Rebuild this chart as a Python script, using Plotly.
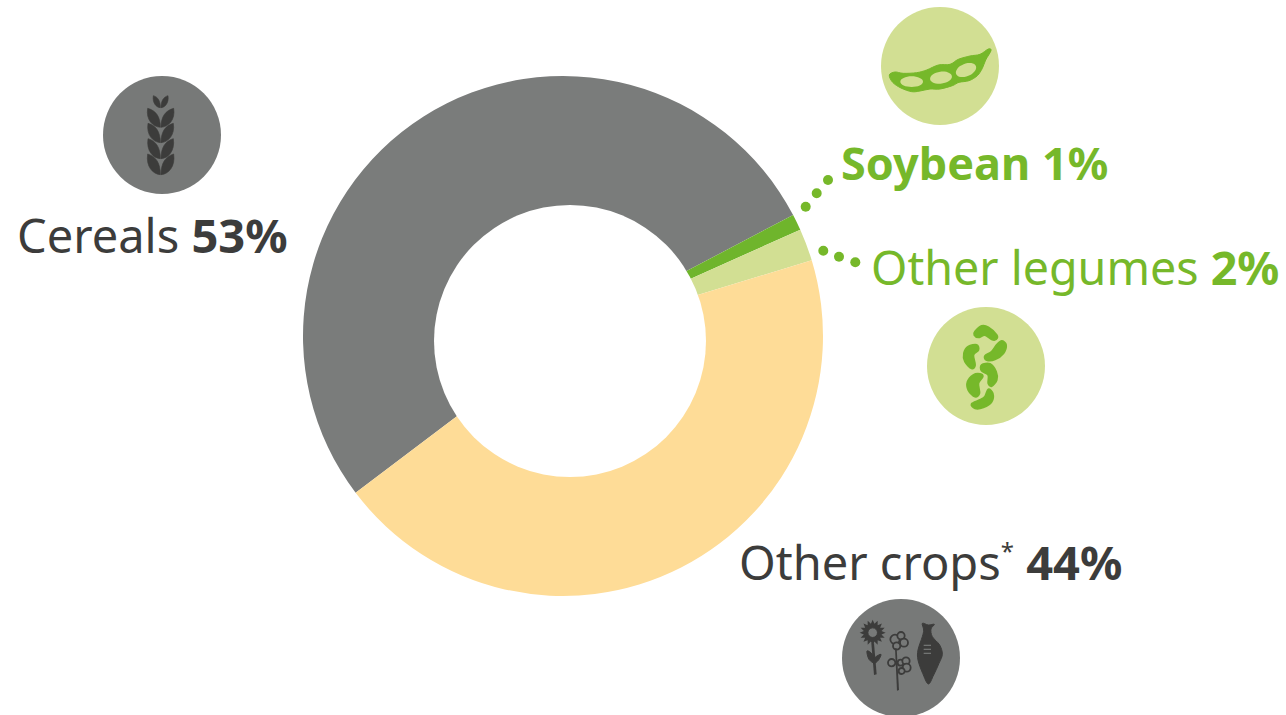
import math
import plotly.graph_objects as go

categories = ["Cereals", "Soybean", "Other legumes", "Other crops"]
values = [52.6, 1.0, 2.0, 44.4]
slice_colors = ["#7A7C7B", "#6FB52C", "#D2DF93", "#FEDC97"]
W, H = 1286, 715
DARK = "#3C3C3B"
GREEN = "#76B82A"
ICON_GREY = "#777978"
LIGHT = "#D2DF93"

shapes = []

def px(x, y):
    return f"{x / W:.5f},{1 - y / H:.5f}"

def smooth(pts):
    n = len(pts)
    d = "M" + px(*pts[0])
    for i in range(n):
        p0, p1, p2, p3 = pts[i - 1], pts[i], pts[(i + 1) % n], pts[(i + 2) % n]
        c1 = (p1[0] + (p2[0] - p0[0]) / 6, p1[1] + (p2[1] - p0[1]) / 6)
        c2 = (p2[0] - (p3[0] - p1[0]) / 6, p2[1] - (p3[1] - p1[1]) / 6)
        d += "C" + px(*c1) + " " + px(*c2) + " " + px(*p2)
    return d + "Z"

def poly(pts):
    return "M" + "L".join(px(*p) for p in pts) + "Z"

def add(path, fill=None, line=None, w=0):
    shapes.append(dict(type="path", xref="paper", yref="paper", path=path,
                       fillcolor=fill if fill else "rgba(0,0,0,0)",
                       line=dict(color=line if line else "rgba(0,0,0,0)", width=w)))

def circ(cx, cy, r, fill=None, line=None, w=0):
    shapes.append(dict(type="circle", xref="paper", yref="paper",
                       x0=(cx - r) / W, x1=(cx + r) / W,
                       y0=1 - (cy + r) / H, y1=1 - (cy - r) / H,
                       fillcolor=fill if fill else "rgba(0,0,0,0)",
                       line=dict(color=line if line else "rgba(0,0,0,0)", width=w)))

def zoomed(origin, pts):
    return [(origin[0] + x / 3, origin[1] + y / 3) for x, y in pts]

def ellipse(origin, cx, cy, rx, ry, deg):
    a = math.radians(deg)
    pts = []
    for k in range(16):
        t = 2 * math.pi * k / 16
        x, y = rx * math.cos(t), ry * math.sin(t)
        pts.append((cx + x * math.cos(a) - y * math.sin(a), cy + x * math.sin(a) + y * math.cos(a)))
    return zoomed(origin, pts)

# --- off-centre doughnut hole
circ(570, 341, 136, "white")

# --- icon discs
circ(940, 66, 59, LIGHT)
circ(986, 366, 59, LIGHT)
circ(162, 135, 59, ICON_GREY)
circ(901, 658, 59, ICON_GREY)

# --- soybean pod
o = (870, 0)
add(smooth(zoomed(o, [(58, 225), (75, 216), (100, 220), (140, 218), (170, 210), (205, 195), (240, 193),
                      (265, 178), (300, 168), (330, 163), (355, 147), (363, 152), (347, 180), (337, 205),
                      (322, 227), (297, 242), (267, 247), (247, 257), (210, 267), (180, 267), (150, 273),
                      (125, 275), (93, 264), (68, 247)])), GREEN, GREEN, 1)
add(smooth(ellipse(o, 125, 245, 34, 16, 0)), LIGHT)
add(smooth(ellipse(o, 213, 233, 33, 18, -8)), LIGHT)
add(smooth(ellipse(o, 288, 210, 32, 19, -22)), LIGHT)

# --- beans
o = (920, 300)
beans = [
    [(165, 95), (185, 78), (205, 82), (230, 105), (228, 118), (215, 118), (195, 105), (175, 112), (163, 105)],
    [(258, 135), (250, 160), (225, 178), (200, 180), (195, 168), (215, 155), (230, 135), (245, 123)],
    [(170, 135), (175, 150), (160, 165), (165, 195), (155, 205), (135, 185), (132, 160), (145, 140)],
    [(185, 195), (210, 192), (228, 215), (230, 240), (215, 258), (205, 250), (205, 225), (185, 212)],
    [(180, 222), (188, 230), (175, 250), (178, 280), (165, 290), (145, 270), (143, 245), (160, 225)],
    [(205, 268), (218, 280), (215, 305), (190, 322), (165, 325), (155, 312), (180, 300), (195, 290)],
]
for b in beans:
    add(smooth(zoomed(o, b)), GREEN, GREEN, 2)

# --- wheat: pointed leaves with sharp tip and base
o = (95, 70)
def leaf_pair(tip_y, bot_y, half):
    cx = 197
    h = bot_y - tip_y
    for s in (-1, 1):
        tip = (cx + s * half, tip_y)
        base = (cx + s * 1, bot_y)
        inner1 = (cx + s * half * 0.35, tip_y + h * 0.12)
        inner2 = (cx + s * 1, tip_y + h * 0.45)
        outer1 = (cx + s * half * 0.6, bot_y - h * 0.02)
        outer2 = (cx + s * half * 1.15, tip_y + h * 0.6)
        p = zoomed(o, [tip, inner1, inner2, base, outer1, outer2])
        add("M" + px(*p[0]) + "C" + px(*p[1]) + " " + px(*p[2]) + " " + px(*p[3])
            + "C" + px(*p[4]) + " " + px(*p[5]) + " " + px(*p[0]) + "Z", DARK, DARK, 0.6)
leaf_pair(77, 113, 22)
leaf_pair(115, 172, 39)
leaf_pair(160, 218, 38)
leaf_pair(206, 266, 38)
leaf_pair(252, 314, 39)

# --- other crops
o = (835, 595)
G = ICON_GREY
star = []
for k in range(32):
    r = 39 if k % 2 == 0 else 27
    t = math.pi * k / 16
    star.append((113 + r * math.cos(t), 113 + r * math.sin(t)))
add(poly(zoomed(o, star)), DARK)
cx, cy = zoomed(o, [(113, 113)])[0]
circ(cx, cy, 4.8, G, DARK, 1)
add(poly(zoomed(o, [(109, 145), (117, 145), (125, 238), (117, 240)])), DARK)
add(smooth(zoomed(o, [(96, 168), (112, 178), (119, 204), (102, 193)])), DARK, DARK, 1)
add(smooth(zoomed(o, [(138, 178), (130, 196), (117, 205), (120, 188)])), DARK, DARK, 1)
for x, y, r in [(180, 133, 14), (198, 122, 11), (207, 143, 12), (185, 153, 11),
                (170, 203, 11), (197, 203, 9), (213, 198, 11), (215, 218, 12), (200, 228, 9)]:
    cx, cy = zoomed(o, [(x, y)])[0]
    circ(cx, cy, r / 3, G, DARK, 1.8)
add(poly(zoomed(o, [(180, 160), (185, 160), (192, 285), (186, 287)])), DARK)
add(smooth(zoomed(o, [(262, 85), (280, 90), (298, 88), (288, 102), (292, 125), (314, 150), (322, 178),
                      (312, 205), (296, 240), (280, 267), (263, 235), (249, 195), (249, 165), (262, 125), (266, 105)])),
    DARK, DARK, 1)
for y in (151, 163, 175):
    a, b = zoomed(o, [(266, y), (288, y)])
    shapes.append(dict(type="line", xref="paper", yref="paper", x0=a[0] / W, x1=b[0] / W,
                       y0=1 - a[1] / H, y1=1 - b[1] / H, line=dict(color=G, width=1.2)))

# --- leader dots
for x, y in [(805.7, 206.7), (816.7, 193.3), (828, 180), (823.3, 250.7), (839, 256.7), (855.3, 262.3)]:
    circ(x, y, 5, GREEN)

for s in shapes:
    s["layer"] = "above"

fig = go.Figure(go.Pie(
    labels=categories, values=values, sort=False, direction="clockwise", rotation=232.9,
    hole=0.4, textinfo="none", showlegend=False,
    marker=dict(colors=slice_colors, line=dict(width=0)),
    domain=dict(x=[303 / W, 823 / W], y=[1 - 596 / H, 1 - 76 / H]),
))

def label(x, y, text, color, size=47):
    fig.add_annotation(x=x / W, y=1 - y / H, xref="paper", yref="paper", xanchor="left", yanchor="middle",
                       text=text, showarrow=False, align="left",
                       font=dict(family="Noto Sans", size=size, color=color))

label(15, 235, "Cereals <b>53%</b>", DARK)
label(839, 162, "<b>Soybean 1%</b>", GREEN, 45)
label(869, 267, "Other legumes <b>2%</b>", GREEN, 46.6)
label(737, 562, 'Other crops<sup><span style="font-size:24px">*</span></sup> <b>44%</b>', DARK)

fig.update_layout(width=W, height=H, margin=dict(l=0, r=0, t=0, b=0),
                  paper_bgcolor="white", plot_bgcolor="white", shapes=shapes)
fig.write_html("out.html", config={"displayModeBar": False}, post_script="document.body.style.margin='0';")
